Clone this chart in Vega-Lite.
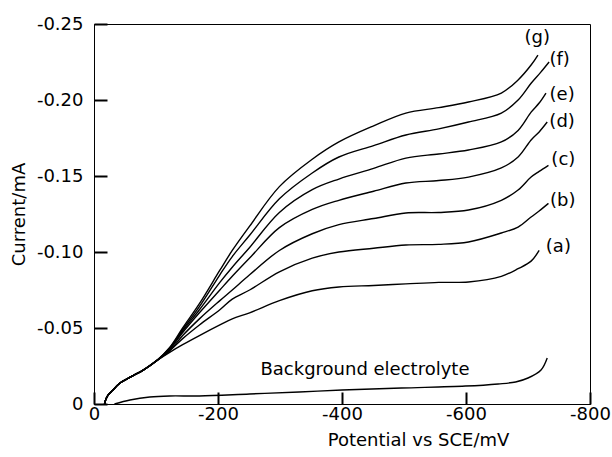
{
  "$schema": "https://vega.github.io/schema/vega-lite/v6.json",
  "width": 496,
  "height": 380,
  "autosize": {"type": "none"},
  "padding": {"left": 94, "top": 24, "right": 22, "bottom": 53},
  "background": "white",
  "config": {
    "view": {"stroke": "black", "strokeWidth": 1},
    "font": "DejaVu Sans",
    "axis": {
      "grid": false,
      "domainColor": "black",
      "domainWidth": 1,
      "labelColor": "black",
      "labelFont": "DejaVu Sans",
      "labelFontSize": 18,
      "titleFont": "DejaVu Sans",
      "titleFontSize": 18,
      "titleFontWeight": "normal",
      "titleColor": "black",
      "labelFlush": false,
      "labelOverlap": false,
      "labelBound": false
    }
  },
  "resolve": {"axis": {"x": "independent", "y": "independent"}},
  "datasets": {
    "curves": [
      {"curve": "g", "potential": -17, "current": 0}, {"curve": "g", "potential": -19, "current": -0.003}, {"curve": "g", "potential": -23, "current": -0.006}, {"curve": "g", "potential": -30, "current": -0.009}, {"curve": "g", "potential": -42, "current": -0.0138}, {"curve": "g", "potential": -60, "current": -0.018}, {"curve": "g", "potential": -80, "current": -0.0225}, {"curve": "g", "potential": -101, "current": -0.0285},
      {"curve": "g", "potential": -122, "current": -0.037}, {"curve": "g", "potential": -143, "current": -0.05}, {"curve": "g", "potential": -170, "current": -0.066}, {"curve": "g", "potential": -203, "current": -0.088}, {"curve": "g", "potential": -223, "current": -0.101}, {"curve": "g", "potential": -251, "current": -0.117}, {"curve": "g", "potential": -299, "current": -0.143}, {"curve": "g", "potential": -352, "current": -0.161}, {"curve": "g", "potential": -395, "current": -0.1724}, {"curve": "g", "potential": -451, "current": -0.183}, {"curve": "g", "potential": -503, "current": -0.1914}, {"curve": "g", "potential": -556, "current": -0.195}, {"curve": "g", "potential": -604, "current": -0.1987}, {"curve": "g", "potential": -657, "current": -0.2046}, {"curve": "g", "potential": -684, "current": -0.2132}, {"curve": "g", "potential": -705, "current": -0.223}, {"curve": "g", "potential": -716, "current": -0.2296},

      {"curve": "f", "potential": -17, "current": 0}, {"curve": "f", "potential": -19, "current": -0.003}, {"curve": "f", "potential": -23, "current": -0.006}, {"curve": "f", "potential": -30, "current": -0.009}, {"curve": "f", "potential": -42, "current": -0.0138}, {"curve": "f", "potential": -60, "current": -0.018}, {"curve": "f", "potential": -80, "current": -0.0225}, {"curve": "f", "potential": -101, "current": -0.0285},
      {"curve": "f", "potential": -122, "current": -0.037}, {"curve": "f", "potential": -143, "current": -0.049}, {"curve": "f", "potential": -170, "current": -0.064}, {"curve": "f", "potential": -203, "current": -0.085}, {"curve": "f", "potential": -223, "current": -0.097}, {"curve": "f", "potential": -251, "current": -0.111}, {"curve": "f", "potential": -299, "current": -0.135}, {"curve": "f", "potential": -352, "current": -0.152}, {"curve": "f", "potential": -395, "current": -0.1625}, {"curve": "f", "potential": -451, "current": -0.17}, {"curve": "f", "potential": -503, "current": -0.177}, {"curve": "f", "potential": -556, "current": -0.181}, {"curve": "f", "potential": -604, "current": -0.1855}, {"curve": "f", "potential": -657, "current": -0.1914}, {"curve": "f", "potential": -684, "current": -0.2}, {"curve": "f", "potential": -705, "current": -0.211}, {"curve": "f", "potential": -720, "current": -0.218}, {"curve": "f", "potential": -734, "current": -0.225},

      {"curve": "e", "potential": -17, "current": 0}, {"curve": "e", "potential": -19, "current": -0.003}, {"curve": "e", "potential": -23, "current": -0.006}, {"curve": "e", "potential": -30, "current": -0.009}, {"curve": "e", "potential": -42, "current": -0.0138}, {"curve": "e", "potential": -60, "current": -0.018}, {"curve": "e", "potential": -80, "current": -0.0225}, {"curve": "e", "potential": -101, "current": -0.0285},
      {"curve": "e", "potential": -122, "current": -0.036}, {"curve": "e", "potential": -143, "current": -0.048}, {"curve": "e", "potential": -170, "current": -0.062}, {"curve": "e", "potential": -203, "current": -0.08}, {"curve": "e", "potential": -223, "current": -0.09}, {"curve": "e", "potential": -251, "current": -0.103}, {"curve": "e", "potential": -299, "current": -0.126}, {"curve": "e", "potential": -352, "current": -0.141}, {"curve": "e", "potential": -395, "current": -0.148}, {"curve": "e", "potential": -451, "current": -0.155}, {"curve": "e", "potential": -503, "current": -0.1618}, {"curve": "e", "potential": -556, "current": -0.1645}, {"curve": "e", "potential": -604, "current": -0.1671}, {"curve": "e", "potential": -657, "current": -0.1724}, {"curve": "e", "potential": -684, "current": -0.18}, {"curve": "e", "potential": -705, "current": -0.192}, {"curve": "e", "potential": -718, "current": -0.198}, {"curve": "e", "potential": -729, "current": -0.2046},

      {"curve": "d", "potential": -17, "current": 0}, {"curve": "d", "potential": -19, "current": -0.003}, {"curve": "d", "potential": -23, "current": -0.006}, {"curve": "d", "potential": -30, "current": -0.009}, {"curve": "d", "potential": -42, "current": -0.0138}, {"curve": "d", "potential": -60, "current": -0.018}, {"curve": "d", "potential": -80, "current": -0.0225}, {"curve": "d", "potential": -101, "current": -0.0285},
      {"curve": "d", "potential": -122, "current": -0.036}, {"curve": "d", "potential": -143, "current": -0.047}, {"curve": "d", "potential": -170, "current": -0.06}, {"curve": "d", "potential": -203, "current": -0.075}, {"curve": "d", "potential": -223, "current": -0.084}, {"curve": "d", "potential": -251, "current": -0.096}, {"curve": "d", "potential": -299, "current": -0.116}, {"curve": "d", "potential": -352, "current": -0.128}, {"curve": "d", "potential": -395, "current": -0.134}, {"curve": "d", "potential": -451, "current": -0.14}, {"curve": "d", "potential": -503, "current": -0.1454}, {"curve": "d", "potential": -556, "current": -0.147}, {"curve": "d", "potential": -604, "current": -0.1493}, {"curve": "d", "potential": -657, "current": -0.1553}, {"curve": "d", "potential": -684, "current": -0.1625}, {"curve": "d", "potential": -705, "current": -0.1737}, {"curve": "d", "potential": -718, "current": -0.179}, {"curve": "d", "potential": -731, "current": -0.1855},

      {"curve": "c", "potential": -17, "current": 0}, {"curve": "c", "potential": -19, "current": -0.003}, {"curve": "c", "potential": -23, "current": -0.006}, {"curve": "c", "potential": -30, "current": -0.009}, {"curve": "c", "potential": -42, "current": -0.0138}, {"curve": "c", "potential": -60, "current": -0.018}, {"curve": "c", "potential": -80, "current": -0.0225}, {"curve": "c", "potential": -101, "current": -0.0285},
      {"curve": "c", "potential": -122, "current": -0.035}, {"curve": "c", "potential": -143, "current": -0.045}, {"curve": "c", "potential": -170, "current": -0.056}, {"curve": "c", "potential": -203, "current": -0.068}, {"curve": "c", "potential": -223, "current": -0.075}, {"curve": "c", "potential": -251, "current": -0.085}, {"curve": "c", "potential": -299, "current": -0.101}, {"curve": "c", "potential": -352, "current": -0.112}, {"curve": "c", "potential": -395, "current": -0.118}, {"curve": "c", "potential": -451, "current": -0.122}, {"curve": "c", "potential": -503, "current": -0.1257}, {"curve": "c", "potential": -556, "current": -0.126}, {"curve": "c", "potential": -604, "current": -0.1276}, {"curve": "c", "potential": -657, "current": -0.134}, {"curve": "c", "potential": -684, "current": -0.1408}, {"curve": "c", "potential": -705, "current": -0.1493}, {"curve": "c", "potential": -718, "current": -0.153}, {"curve": "c", "potential": -733, "current": -0.157},

      {"curve": "b", "potential": -17, "current": 0}, {"curve": "b", "potential": -19, "current": -0.003}, {"curve": "b", "potential": -23, "current": -0.006}, {"curve": "b", "potential": -30, "current": -0.009}, {"curve": "b", "potential": -42, "current": -0.0138}, {"curve": "b", "potential": -60, "current": -0.018}, {"curve": "b", "potential": -80, "current": -0.0225}, {"curve": "b", "potential": -101, "current": -0.0285},
      {"curve": "b", "potential": -122, "current": -0.035}, {"curve": "b", "potential": -143, "current": -0.043}, {"curve": "b", "potential": -170, "current": -0.052}, {"curve": "b", "potential": -203, "current": -0.062}, {"curve": "b", "potential": -223, "current": -0.069}, {"curve": "b", "potential": -251, "current": -0.075}, {"curve": "b", "potential": -299, "current": -0.087}, {"curve": "b", "potential": -352, "current": -0.096}, {"curve": "b", "potential": -395, "current": -0.1}, {"curve": "b", "potential": -451, "current": -0.1025}, {"curve": "b", "potential": -503, "current": -0.1046}, {"curve": "b", "potential": -556, "current": -0.105}, {"curve": "b", "potential": -604, "current": -0.1066}, {"curve": "b", "potential": -657, "current": -0.1125}, {"curve": "b", "potential": -684, "current": -0.1164}, {"curve": "b", "potential": -705, "current": -0.123}, {"curve": "b", "potential": -718, "current": -0.127}, {"curve": "b", "potential": -733, "current": -0.132},

      {"curve": "a", "potential": -17, "current": 0}, {"curve": "a", "potential": -19, "current": -0.003}, {"curve": "a", "potential": -23, "current": -0.006}, {"curve": "a", "potential": -30, "current": -0.009}, {"curve": "a", "potential": -42, "current": -0.0138}, {"curve": "a", "potential": -60, "current": -0.018}, {"curve": "a", "potential": -80, "current": -0.0225}, {"curve": "a", "potential": -101, "current": -0.0285},
      {"curve": "a", "potential": -122, "current": -0.034}, {"curve": "a", "potential": -143, "current": -0.039}, {"curve": "a", "potential": -170, "current": -0.045}, {"curve": "a", "potential": -203, "current": -0.052}, {"curve": "a", "potential": -223, "current": -0.056}, {"curve": "a", "potential": -251, "current": -0.06}, {"curve": "a", "potential": -299, "current": -0.068}, {"curve": "a", "potential": -352, "current": -0.0745}, {"curve": "a", "potential": -395, "current": -0.077}, {"curve": "a", "potential": -451, "current": -0.078}, {"curve": "a", "potential": -503, "current": -0.079}, {"curve": "a", "potential": -556, "current": -0.08}, {"curve": "a", "potential": -604, "current": -0.0803}, {"curve": "a", "potential": -657, "current": -0.084}, {"curve": "a", "potential": -684, "current": -0.089}, {"curve": "a", "potential": -705, "current": -0.094}, {"curve": "a", "potential": -718, "current": -0.101},

      {"curve": "bg", "potential": -33, "current": 0}, {"curve": "bg", "potential": -58, "current": -0.0026}, {"curve": "bg", "potential": -90, "current": -0.0046}, {"curve": "bg", "potential": -122, "current": -0.0053}, {"curve": "bg", "potential": -170, "current": -0.0053}, {"curve": "bg", "potential": -251, "current": -0.0066}, {"curve": "bg", "potential": -331, "current": -0.0079}, {"curve": "bg", "potential": -400, "current": -0.0092}, {"curve": "bg", "potential": -496, "current": -0.0105}, {"curve": "bg", "potential": -599, "current": -0.0118}, {"curve": "bg", "potential": -652, "current": -0.0132}, {"curve": "bg", "potential": -680, "current": -0.0145}, {"curve": "bg", "potential": -700, "current": -0.0171}, {"curve": "bg", "potential": -721, "current": -0.0224}, {"curve": "bg", "potential": -731, "current": -0.0303}
    ],
    "labels": [
      {"label": "(g)", "potential": -715, "current": -0.2408},
      {"label": "(f)", "potential": -751, "current": -0.2263},
      {"label": "(e)", "potential": -755, "current": -0.2036},
      {"label": "(d)", "potential": -755, "current": -0.1855},
      {"label": "(c)", "potential": -757, "current": -0.1605},
      {"label": "(b)", "potential": -756, "current": -0.1335},
      {"label": "(a)", "potential": -749, "current": -0.1033},
      {"label": "Background electrolyte", "potential": -437, "current": -0.0224}
    ]
  },
  "layer": [
    {
      "data": {"name": "curves"},
      "mark": {"type": "line", "color": "black", "strokeWidth": 1.4, "interpolate": "catmull-rom"},
      "encoding": {
        "x": {
          "field": "potential",
          "type": "quantitative",
          "scale": {"domain": [0, -800], "nice": false, "zero": false},
          "axis": {
            "orient": "bottom",
            "title": "Potential vs SCE/mV",
            "values": [0, -200, -400, -600, -800],
            "labelExpr": "datum.value == 0 ? '0' : '-' + format(-datum.value, 'd')",
            "tickSize": -12,
            "tickWidth": 2,
            "tickColor": "black",
            "labelPadding": 13,
            "zindex": 1,
            "titleX": 324,
            "titleY": 36,
            "titleAlign": "center",
            "titleBaseline": "middle"
          }
        },
        "y": {
          "field": "current",
          "type": "quantitative",
          "scale": {"domain": [0, -0.25], "nice": false, "zero": false},
          "axis": {
            "orient": "left",
            "title": "Current/mA",
            "values": [0, -0.05, -0.1, -0.15, -0.2, -0.25],
            "labelExpr": "datum.value == 0 ? '0' : '-' + format(-datum.value, '.2f')",
            "tickSize": -13,
            "tickWidth": 2,
            "tickColor": "black",
            "labelPadding": 24,
            "zindex": 1,
            "titleX": -75,
            "titleY": 190,
            "titleAngle": -90,
            "titleAlign": "center",
            "titleBaseline": "middle"
          }
        },
        "detail": {"field": "curve"}
      }
    },
    {
      "data": {"name": "labels"},
      "mark": {"type": "text", "font": "DejaVu Sans", "fontSize": 18, "color": "black", "align": "center", "baseline": "middle"},
      "encoding": {
        "x": {"field": "potential", "type": "quantitative", "axis": null},
        "y": {"field": "current", "type": "quantitative", "axis": null},
        "text": {"field": "label"}
      }
    }
  ]
}
